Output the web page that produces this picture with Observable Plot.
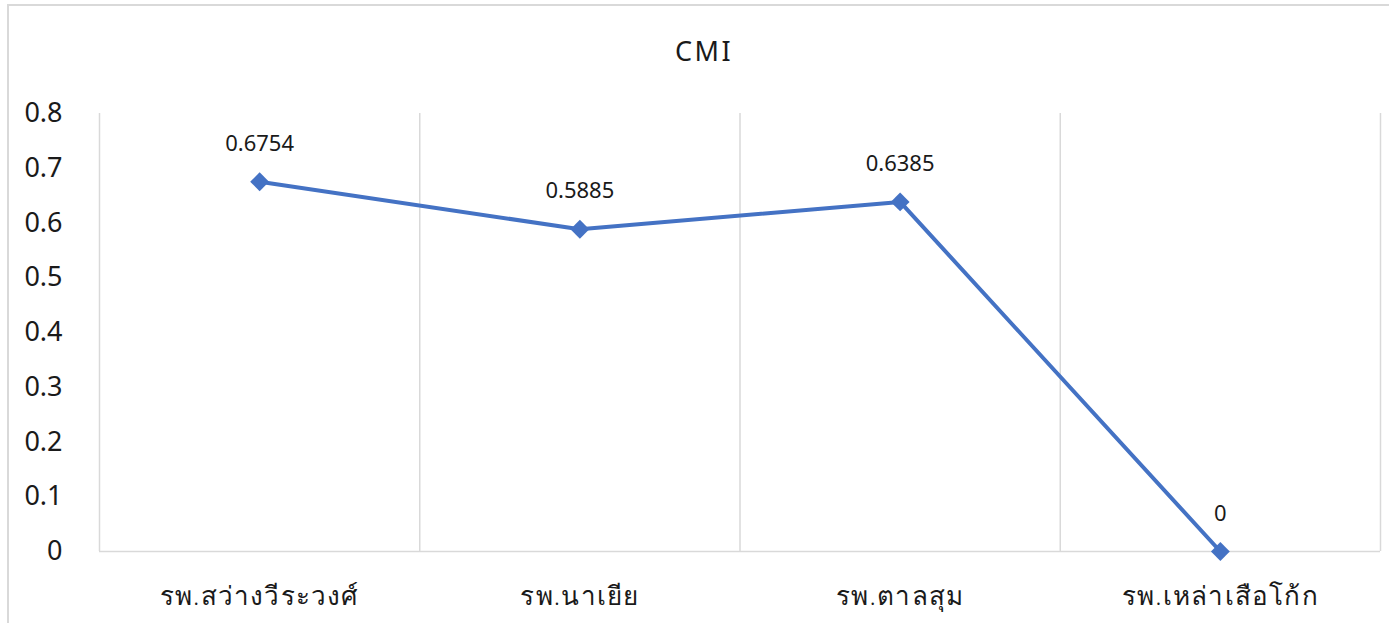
<!DOCTYPE html>
<html>
<head>
<meta charset="utf-8">
<script src="https://cdn.jsdelivr.net/npm/d3@7"></script>
<script src="https://cdn.jsdelivr.net/npm/@observablehq/plot@0.6"></script>
<style>
  html, body { margin: 0; padding: 0; background: #fff; overflow: hidden; }
  #wrap { position: relative; width: 1389px; height: 623px; }
  #border { position: absolute; left: 7px; top: 4px; width: 1420px; height: 660px; border: 2px solid #d9d9d9; box-sizing: border-box; }
  #chart { position: absolute; left: 0; top: 0; }
  .xlab text { letter-spacing: 1.2px; }
  .ttl text { letter-spacing: 2.5px; }
</style>
</head>
<body>
<div id="wrap"><div id="border"></div><div id="chart"></div></div>
<script>
const categories = ["รพ.สว่างวีระวงศ์", "รพ.นาเยีย", "รพ.ตาลสุม", "รพ.เหล่าเสือโก้ก"];
const cmiValues = [0.6754, 0.5885, 0.6385, 0];
const yTicks = [0, 0.1, 0.2, 0.3, 0.4, 0.5, 0.6, 0.7, 0.8];
const title = "CMI";

const data = categories.map((c, i) => ({ name: c, pos: i + 0.5, value: cmiValues[i] }));
const edges = d3.range(categories.length + 1);

const font = "'Noto Sans', 'Open Sans', sans-serif";

const chart = Plot.plot({
  width: 1389,
  height: 623,
  marginLeft: 99,
  marginRight: 9,
  marginTop: 113,
  marginBottom: 72,
  style: { fontFamily: font, color: "#1a1a1a", background: "transparent" },
  x: { type: "linear", domain: [0, categories.length], axis: null },
  y: { domain: [0, 0.8], axis: null },
  marks: [
    Plot.ruleX(edges, { x: d => d, y1: 0, y2: 0.8, stroke: "#d9d9d9", strokeWidth: 1.5 }),
    Plot.ruleY([0], { x1: 0, x2: categories.length, stroke: "#d9d9d9", strokeWidth: 1.5 }),
    Plot.axisY(yTicks, { label: null, tickSize: 0, tickPadding: 37, fontSize: 27, tickFormat: d => String(d), fill: "#1a1a1a" }),
    Plot.axisX(data.map(d => d.pos), { label: null, tickSize: 0, tickPadding: 35, fontSize: 26, fontWeight: 300, tickFormat: (d, i) => categories[i], fill: "#1a1a1a", className: "xlab" }),
    Plot.line(data, { x: "pos", y: "value", stroke: "#4472C4", strokeWidth: 4 }),
    Plot.dot(data, { x: "pos", y: "value", symbol: "diamond2", r: 8.5, fill: "#4472C4", stroke: "none" }),
    Plot.text(data, { x: "pos", y: "value", text: d => String(d.value), dy: -38, fontSize: 22, fill: "#1a1a1a" }),
    Plot.text([title], { frameAnchor: "top", lineAnchor: "middle", dx: -36, dy: -61, fontSize: 27, fill: "#1a1a1a", className: "ttl" })
  ]
});
document.getElementById("chart").appendChild(chart);
</script>
</body>
</html>
